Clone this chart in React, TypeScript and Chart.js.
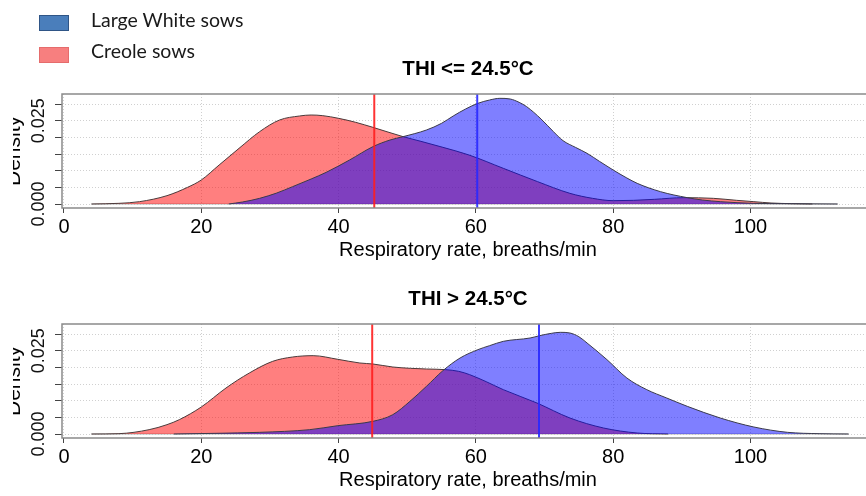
import React, { useEffect, useRef } from "react";
import { Chart, registerables } from "chart.js";
Chart.register(...registerables);

// ---------- data ----------
const seriesNames = ["Large White sows", "Creole sows"];
const panelTitles = ["THI <= 24.5°C", "THI > 24.5°C"];
const xAxisTitle = "Respiratory rate, breaths/min";
const yAxisTitle = "Density";

const xTicks = [0, 20, 40, 60, 80, 100];
const yTicks = [0, 0.005, 0.01, 0.015, 0.02, 0.025, 0.03];
const yTickLabelValues = [0, 0.025];
const yTickLabels = ["0.000", "0.025"];

// THI <= 24.5
const rrTopCreole = [4, 8, 11, 15, 18, 20, 22.6, 25.5, 28.5, 31.4, 34.3, 36, 37.7, 40, 42.5, 45, 49.4, 52, 55.2, 59, 64, 69, 73.7, 77, 80, 83, 86, 90.3, 94.6, 98, 100.5, 103, 106, 109];
const denTopCreole = [0, 0.0002, 0.0007, 0.0025, 0.005, 0.0072, 0.0117, 0.0167, 0.0217, 0.0252, 0.0264, 0.0267, 0.0265, 0.0257, 0.0245, 0.023, 0.0202, 0.0188, 0.017, 0.0147, 0.0107, 0.0067, 0.0032, 0.0017, 0.001, 0.0011, 0.0014, 0.0019, 0.0017, 0.0011, 0.0007, 0.0003, 0.0001, 0];
const rrTopLW = [24, 26, 28.5, 31, 33.3, 36, 38.2, 41.6, 45, 47.5, 49.4, 52.8, 55, 56.7, 58.5, 60.3, 62, 63.5, 65, 66.3, 67.4, 69.5, 71.3, 72.7, 74.5, 76.2, 78, 80, 82, 83.5, 86.9, 90.8, 93, 95.6, 100.5, 105, 112.7];
const denTopLW = [0, 0.0006, 0.0017, 0.0033, 0.0052, 0.0075, 0.0095, 0.0132, 0.0172, 0.0192, 0.0202, 0.0222, 0.0242, 0.0264, 0.0285, 0.0302, 0.0312, 0.0317, 0.0315, 0.0305, 0.0292, 0.0255, 0.0217, 0.019, 0.017, 0.0152, 0.0128, 0.0102, 0.0078, 0.0062, 0.0037, 0.0019, 0.0012, 0.0007, 0.0002, 0.0001, 0];
const meanTop = [60.2, 45.2]; // Large White, Creole

// THI > 24.5
const rrBotCreole = [4, 8, 12.4, 15, 16.8, 20, 23.6, 27, 30.4, 33.3, 36.3, 39.9, 43.1, 45, 47.9, 50.5, 52.8, 55.6, 57.5, 59.1, 61.5, 64, 68.9, 73.7, 78.6, 83.5, 88];
const denBotCreole = [0, 0.0001, 0.0013, 0.0028, 0.0043, 0.0081, 0.0138, 0.0183, 0.0218, 0.0231, 0.0235, 0.0224, 0.0213, 0.021, 0.0201, 0.0197, 0.0195, 0.0193, 0.0188, 0.0178, 0.0157, 0.0133, 0.0093, 0.0048, 0.0018, 0.0003, 0];
const rrBotLW = [16, 22, 28.5, 35.8, 39.9, 45, 47.9, 50.4, 52.8, 55.2, 57.7, 60.3, 62, 64, 67.9, 69.3, 71, 72.3, 73.7, 75, 76.2, 79.1, 82, 84.9, 87.8, 90.8, 95.6, 100.5, 105.4, 110, 114.3];
const denBotLW = [0, 0.0002, 0.0005, 0.0013, 0.0025, 0.0038, 0.0058, 0.0098, 0.0143, 0.019, 0.0228, 0.0253, 0.0265, 0.0278, 0.0288, 0.0295, 0.0302, 0.0305, 0.0303, 0.0292, 0.0273, 0.0223, 0.0168, 0.0133, 0.0108, 0.0083, 0.0048, 0.0021, 0.0005, 0.0001, 0];
const meanBot = [69.2, 44.9];

// ---------- styles ----------
const X_MIN = -0.29;
const X_MAX = 118.0;
const Y_MIN = -0.0012;
const Y_MAX = 0.033;
const FONT = "'Liberation Sans', Arial, sans-serif";

const toXY = (xs: number[], ys: number[]) => xs.map((x, i) => ({ x, y: ys[i] }));

const boxPlugin = {
  id: "rbox",
  afterDraw(chart: any) {
    const { ctx, chartArea: a, scales } = chart;
    ctx.save();
    ctx.strokeStyle = "#8a8a8a";
    ctx.lineWidth = 1.5;
    ctx.strokeRect(a.left, a.top, a.right - a.left, a.bottom - a.top);
    // rotated y tick labels (R style)
    const ys = scales.y;
    ctx.fillStyle = "#111";
    ctx.font = `18px ${FONT}`;
    ctx.textAlign = "center";
    ctx.textBaseline = "middle";
    yTickLabelValues.forEach((v, i) => {
      const py = ys.getPixelForValue(v);
      ctx.save();
      ctx.translate(39, py);
      ctx.rotate(-Math.PI / 2);
      ctx.fillText(yTickLabels[i], 0, 0);
      ctx.restore();
    });
    // cropped edge as in reference
    ctx.fillStyle = "#fff";
    ctx.fillRect(0, 0, 13, chart.height);
    ctx.restore();
  },
};

type PanelProps = {
  title: string;
  rrLW: number[];
  denLW: number[];
  rrCr: number[];
  denCr: number[];
  means: number[];
  top: number;
};

function Panel({ title, rrLW, denLW, rrCr, denCr, means, top }: PanelProps) {
  const ref = useRef<HTMLCanvasElement>(null);
  useEffect(() => {
    if (!ref.current) return;
    const baseStart = Math.min(rrCr[0], rrLW[0]);
    const baseEnd = Math.max(rrCr[rrCr.length - 1], rrLW[rrLW.length - 1]);
    const chart = new Chart(ref.current, {
      type: "line",
      data: {
        datasets: [
          {
            label: "Creole mean",
            data: [{ x: means[1], y: Y_MIN }, { x: means[1], y: Y_MAX }],
            borderColor: "rgba(255,30,30,0.9)",
            borderWidth: 2,
            pointRadius: 0,
            fill: false,
          },
          {
            label: "Large White mean",
            data: [{ x: means[0], y: Y_MIN }, { x: means[0], y: Y_MAX }],
            borderColor: "rgba(40,40,255,0.9)",
            borderWidth: 2,
            pointRadius: 0,
            fill: false,
          },
          {
            label: seriesNames[0],
            data: toXY(rrLW, denLW),
            borderColor: "#3a3a4a",
            borderWidth: 1,
            backgroundColor: "rgba(0,0,255,0.5)",
            fill: "origin",
            pointRadius: 0,
            cubicInterpolationMode: "monotone",
          },
          {
            label: seriesNames[1],
            data: toXY(rrCr, denCr),
            borderColor: "#4a3a3a",
            borderWidth: 1,
            backgroundColor: "rgba(255,0,0,0.5)",
            fill: "origin",
            pointRadius: 0,
            cubicInterpolationMode: "monotone",
          },
          {
            label: "baseline",
            data: [{ x: baseStart, y: 0 }, { x: baseEnd, y: 0 }],
            borderColor: "#b5b5b5",
            borderWidth: 1.2,
            pointRadius: 0,
            fill: false,
          },
        ],
      },
      options: {
        animation: false,
        responsive: false,
        devicePixelRatio: 1,
        layout: { padding: { left: 0, right: 4, top: 0, bottom: 0 } },
        plugins: {
          legend: { display: false },
          tooltip: { enabled: false },
          title: {
            display: true,
            text: title,
            fullSize: false,
            color: "#000",
            font: { family: FONT, size: 20.5, weight: "bold", lineHeight: 1.2 },
            padding: { top: 17.2, bottom: 12.2 },
          },
        },
        scales: {
          x: {
            type: "linear",
            min: X_MIN,
            max: X_MAX,
            afterBuildTicks: (s: any) => {
              s.ticks = xTicks.map((v) => ({ value: v }));
            },
            afterFit: (s: any) => {
              s.height = 62;
            },
            ticks: {
              color: "#000",
              font: { family: FONT, size: 20 },
              padding: 2,
              maxRotation: 0,
              autoSkip: false,
            },
            grid: {
              color: "#d0d0d0",
              lineWidth: 1,
              drawTicks: true,
              tickLength: 5,
              tickColor: "#444",
              tickWidth: 1,
            },
            border: { display: false, dash: [1, 2] },
            title: {
              display: true,
              text: xAxisTitle,
              color: "#000",
              font: { family: FONT, size: 20, lineHeight: 1.2 },
              padding: { top: 0, bottom: 8 },
            },
          },
          y: {
            type: "linear",
            min: Y_MIN,
            max: Y_MAX,
            afterBuildTicks: (s: any) => {
              s.ticks = yTicks.map((v) => ({ value: v }));
            },
            afterFit: (s: any) => {
              s.width = 62;
            },
            ticks: { display: false },
            grid: {
              color: "#d0d0d0",
              lineWidth: 1,
              drawTicks: true,
              tickLength: 7,
              tickColor: "#444",
              tickWidth: 1,
            },
            border: { display: false, dash: [1, 2] },
            title: {
              display: true,
              text: yAxisTitle,
              color: "#000",
              font: { family: FONT, size: 21, lineHeight: 1.2 },
              padding: { top: 1.8, bottom: 0 },
            },
          },
        },
      } as any,
      plugins: [boxPlugin],
    });
    return () => chart.destroy();
  }, []);
  return (
    <canvas
      ref={ref}
      width={878}
      height={230}
      style={{ position: "absolute", left: 0, top, width: 878, height: 230 }}
    />
  );
}

const legendColors = [
  { fill: "#4a7ebb", border: "#2f5586" },
  { fill: "#f77f7f", border: "#e56c6c" },
];

export default function App() {
  return (
    <div
      style={{
        position: "absolute",
        left: 0,
        top: 0,
        width: 866,
        height: 496,
        overflow: "hidden",
        background: "#fff",
      }}
    >
      <Panel title={panelTitles[0]} rrLW={rrTopLW} denLW={denTopLW} rrCr={rrTopCreole} denCr={denTopCreole} means={meanTop} top={40} />
      <Panel title={panelTitles[1]} rrLW={rrBotLW} denLW={denBotLW} rrCr={rrBotCreole} denCr={denBotCreole} means={meanBot} top={270} />
      {seriesNames.map((name, i) => (
        <React.Fragment key={name}>
          <div
            style={{
              position: "absolute",
              left: 39,
              top: 15 + i * 32,
              width: 28,
              height: 14,
              background: legendColors[i].fill,
              border: `1px solid ${legendColors[i].border}`,
            }}
          />
          <div
            style={{
              position: "absolute",
              left: 91,
              top: 6 + i * 31,
              fontFamily: "Lato, 'Open Sans', sans-serif",
              fontSize: 19.5,
              lineHeight: "28px",
              color: "#1a1a1a",
              whiteSpace: "nowrap",
            }}
          >
            {name}
          </div>
        </React.Fragment>
      ))}
    </div>
  );
}
